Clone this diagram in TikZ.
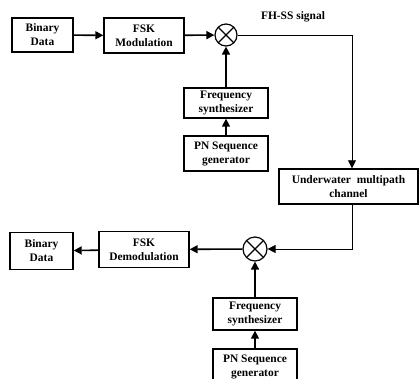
\documentclass[tikz,border=0pt]{standalone}
\usepackage{fontspec}
\setmainfont{Liberation Serif}
\usetikzlibrary{arrows.meta}

\tikzset{
  blk/.style={draw, line width=1.4pt, align=center, inner sep=1pt,
    font=\fontsize{11.5}{14}\selectfont\bfseries},
  mixer/.style={draw, circle, line width=1.2pt, minimum size=22bp, inner sep=0pt,
    path picture={\draw[line width=1.2pt]
      (path picture bounding box.north west) -- (path picture bounding box.south east)
      (path picture bounding box.north east) -- (path picture bounding box.south west);}},
  thk/.style={line width=1.6pt, -{Triangle[length=8bp,width=8bp]}},
  thn/.style={line width=0.8pt, -{Triangle[length=8bp,width=8bp]}}
}

\begin{document}
\begin{tikzpicture}[x=1bp, y=-1bp]
\useasboundingbox (0,0) rectangle (419,379);
\clip (0,0) rectangle (419,379);

% transmitter
\node[blk, minimum width=61bp, minimum height=34bp] (bd1) at (42.5,35) {Binary\\Data};
\node[blk, minimum width=80bp, minimum height=35bp] (fskm) at (144,35.5) {FSK\\Modulation};
\node[mixer] (mix1) at (226,35) {};
\node[blk, minimum width=84bp, minimum height=30bp] (fs1) at (226,103) {Frequency\\synthesizer};
\node[blk, minimum width=84bp, minimum height=35bp] (pn1) at (226,153.5) {PN Sequence\\generator};
\node[font=\fontsize{11.5}{14}\selectfont\bfseries] (fhss) at (293,17) {FH-SS signal};

% channel
\node[blk, minimum width=139bp, minimum height=35bp] (ch) at (348.5,186.5) {Underwater\ \ multipath\\channel};

% receiver
\node[mixer, minimum size=24bp] (mix2) at (255,249) {};
\node[blk, minimum width=90bp, minimum height=36bp] (fskd) at (144,249.5) {FSK\\Demodulation};
\node[blk, minimum width=63bp, minimum height=37bp] (bd2) at (41.5,251) {Binary\\Data};
\node[blk, minimum width=84bp, minimum height=32bp] (fs2) at (255,314) {Frequency\\synthesizer};
\node[blk, minimum width=84bp, minimum height=35bp] (pn2) at (255,366.5) {PN Sequence\\generator};

\draw[thk] (bd1) -- (fskm);
\draw[thk] (fskm) -- (mix1);
\draw[thk] (fs1) -- (mix1);
\draw[thk] (pn1) -- (fs1);
\draw[thn] (mix1.east) -| ([xshift=3.5bp]ch.north);

\draw[thn] ([xshift=3.5bp]ch.south) |- (mix2.east);
\draw[thk] (mix2) -- (fskd);
\draw[thk] (fskd) -- (bd2);
\draw[thk] (fs2) -- (mix2);
\draw[thk] (pn2) -- (fs2);
\end{tikzpicture}
\end{document}
